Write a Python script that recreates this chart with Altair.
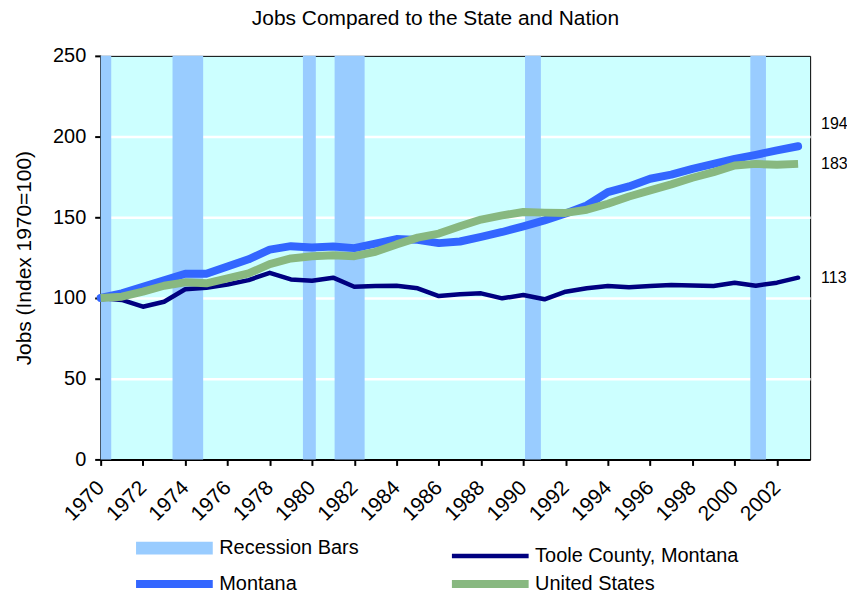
import altair as alt
import pandas as pd

# ---- data ----
years = list(range(1970, 2004))
toole = [100, 98.8, 94.6, 97.7, 105.4, 106.4, 108.4, 111.1, 115.6, 111.5,
         110.7, 112.6, 107.0, 107.4, 107.6, 106.0, 101.2, 102.3, 102.9, 99.8,
         101.9, 99.2, 103.9, 106.0, 107.4, 106.6, 107.4, 108.0, 107.8, 107.4,
         109.5, 107.6, 109.5, 112.6]
montana = [100, 102.9, 107.0, 111.0, 115.0, 115.0, 119.5, 124.0, 130.0, 132.1,
           131.3, 131.9, 130.9, 133.7, 136.5, 136.0, 134.0, 135.0, 137.9, 140.9,
           144.4, 148.1, 152.3, 157.4, 165.6, 169.1, 173.9, 176.4, 180.0, 183.1,
           186.2, 188.7, 191.4, 194.0]
united_states = [100, 100.8, 103.9, 107.6, 109.7, 109.1, 112.1, 115.2, 121.0, 124.5,
                 125.9, 126.5, 125.9, 128.6, 133.2, 137.4, 139.9, 144.4, 148.6, 151.2,
                 153.3, 152.9, 152.7, 154.7, 158.4, 162.9, 166.7, 170.4, 174.5, 178.0,
                 182.1, 183.1, 182.5, 183.1]
recession_start = [1970.0, 1973.4, 1979.57, 1981.07, 1990.08, 2000.74]
recession_end = [1970.5, 1974.85, 1980.18, 1982.49, 1990.83, 2001.48]
series_names = ["Recession Bars", "Toole County, Montana", "Montana", "United States"]
end_labels = ["113", "194", "183"]
x_tick_years = list(range(1970, 2003, 2))
y_ticks = [0, 50, 100, 150, 200, 250]

# ---- styles ----
colors = ["#99CCFF", "#000080", "#3366FF", "#88B880"]
FONT = "Liberation Sans"
W, H = 712, 405

rows = []
for name, vals in [("Toole County, Montana", toole), ("Montana", montana),
                   ("United States", united_states)]:
    for y, v in zip(years, vals):
        rows.append({"year": y, "value": v, "series": name})
lines_df = pd.DataFrame(rows)
rec_df = pd.DataFrame({"start": recession_start, "end": recession_end})
lab_df = pd.DataFrame({
    "series": ["Toole County, Montana", "Montana", "United States"],
    "value": [toole[-1], montana[-1], united_states[-1]],
    "label": end_labels,
})

x_scale = alt.Scale(domain=[1970, 2003.57], nice=False, zero=False)
y_scale = alt.Scale(domain=[0, 250], nice=False)

x_axis = alt.Axis(values=x_tick_years, format="d", labelAngle=-45,
                  labelAlign="right", labelBaseline="middle", labelPadding=19,
                  labelOverlap=False, labelBound=False, labelFontSize=21,
                  grid=False, title=None)
y_axis = alt.Axis(values=y_ticks, title="Jobs (Index 1970=100)", grid=True,
                  gridColor="white", gridWidth=2.5,
                  gridOpacity={"condition": {"test": "datum.value == 0 || datum.value == 250",
                                             "value": 0}, "value": 1},
                  labelPadding=9, titlePadding=18, titleFontSize=21)

color = alt.Color(
    "series:N",
    scale=alt.Scale(domain=series_names, range=colors),
    legend=alt.Legend(
        title=None, orient="none", legendX=36, legendY=484, columns=2,
        direction="horizontal",
        columnPadding=76, rowPadding=-44, symbolType="stroke", symbolSize=5929,
        symbolOffset=28,
        symbolStrokeWidth=alt.ExprRef(
            "datum.value === 'Recession Bars' ? 13 : (datum.value === 'Toole County, Montana' ? 4.5 : 8)"),
        labelFont=FONT, labelFontSize=20, labelColor="black", labelLimit=400,
        labelOffset=35,
    ),
)

rect = alt.Chart(rec_df).mark_rect(color="#99CCFF").encode(
    x=alt.X("start:Q", scale=x_scale, axis=x_axis),
    x2="end:Q",
)


def line_layer(name, width, cap):
    return alt.Chart(lines_df).transform_filter(
        alt.datum.series == name
    ).mark_line(strokeWidth=width, strokeCap=cap, strokeJoin="round").encode(
        x=alt.X("year:Q", scale=x_scale, axis=x_axis),
        y=alt.Y("value:Q", scale=y_scale, axis=y_axis),
        color=color,
    )


toole_l = line_layer("Toole County, Montana", 4.5, "round")
mt_l = line_layer("Montana", 8, "round")
us_l = line_layer("United States", 8, "butt")

labels_other = alt.Chart(lab_df).transform_filter(
    alt.datum.series != "Montana"
).mark_text(
    align="left", baseline="middle", font=FONT, fontSize=16, color="black"
).encode(x=alt.value(W + 11), y=alt.Y("value:Q", scale=y_scale), text="label:N")
labels_mt = alt.Chart(lab_df).transform_filter(
    alt.datum.series == "Montana"
).mark_text(
    align="left", baseline="middle", font=FONT, fontSize=16, color="black", dy=-22
).encode(x=alt.value(W + 11), y=alt.Y("value:Q", scale=y_scale), text="label:N")

chart = alt.layer(rect, toole_l, mt_l, us_l, labels_other, labels_mt).properties(
    width=W, height=H,
    autosize="none",
    padding={"left": 93, "top": 47, "right": 37, "bottom": 130},
    title=alt.TitleParams("Jobs Compared to the State and Nation", font=FONT,
                          fontSize=21, fontWeight="normal", color="black",
                          anchor="middle", offset=17, dx=-20),
).configure_view(
    fill="#CCFFFF", stroke="black", strokeWidth=1
).configure_axis(
    labelFont=FONT, titleFont=FONT, labelFontSize=20, titleFontSize=20,
    titleFontWeight="normal", labelColor="black", titleColor="black",
    domainColor="black", domainWidth=2, tickColor="black", tickWidth=2,
    tickSize=6,
)

chart.save("out.html", embed_options={"renderer": "svg", "actions": False})
